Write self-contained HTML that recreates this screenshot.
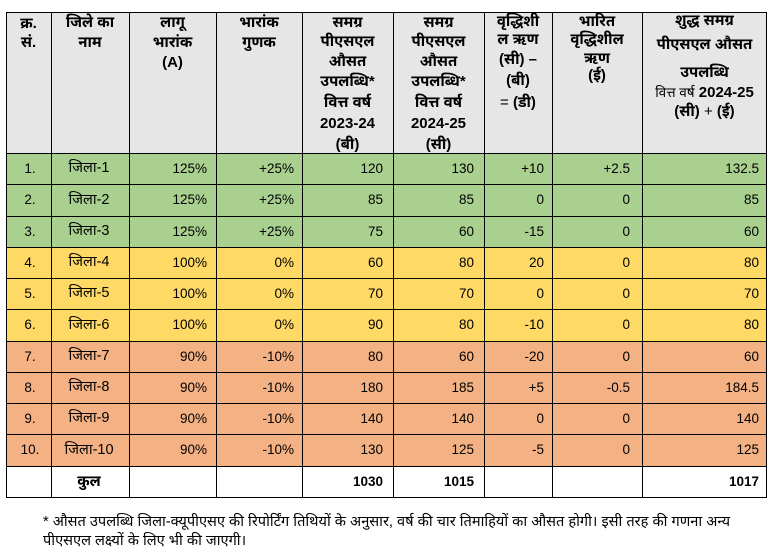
<!DOCTYPE html>
<html>
<head>
<meta charset="utf-8">
<style>
html,body{margin:0;padding:0;background:#fff;}
body{width:780px;height:557px;position:relative;overflow:hidden;font-family:"Liberation Sans","Noto Sans Devanagari","Lohit Devanagari","Nirmala UI","Mangal","FreeSans",sans-serif;color:#000;}
.bg{position:absolute;left:6px;width:761px;}
.hl{position:absolute;left:6px;width:761px;height:1px;background:#000;}
.vl{position:absolute;top:12px;height:486px;width:1px;background:#000;}
.row{position:absolute;left:0;width:780px;font-size:13.5px;}
.row span{position:absolute;top:0;white-space:nowrap;}
.a{left:6px;width:48px;text-align:center;}
.b{left:50px;width:78px;text-align:center;font-size:14.5px;}
.c{left:129px;width:78px;text-align:right;}
.d{left:216px;width:78px;text-align:right;}
.e{left:302px;width:81px;text-align:right;}
.f{left:393px;width:81px;text-align:right;}
.g{left:484px;width:60px;text-align:right;}
.h{left:552px;width:78px;text-align:right;}
.i{left:642px;width:117px;text-align:right;}
.hd{position:absolute;font-size:15px;font-weight:bold;text-align:center;white-space:nowrap;height:20px;line-height:20px;}
.tot{font-weight:bold;}
.fn{position:absolute;left:43px;font-size:14.6px;white-space:nowrap;height:19px;line-height:19px;}
</style>
</head>
<body>
<!-- backgrounds -->
<div class="bg" style="top:12px;height:141px;background:#e7e6e6;"></div>
<div class="bg" style="top:153px;height:94px;background:#a9d08e;"></div>
<div class="bg" style="top:247px;height:94px;background:#ffd966;"></div>
<div class="bg" style="top:341px;height:125px;background:#f4b183;"></div>
<div class="bg" style="top:466px;height:32px;background:#fff;"></div>

<!-- header text -->
<div class="hd" style="left:6px;width:45px;top:14px;">क्र.</div>
<div class="hd" style="left:6px;width:45px;top:33px;">सं.</div>

<div class="hd" style="left:51px;width:78px;top:13px;">जिले का</div>
<div class="hd" style="left:51px;width:78px;top:33px;">नाम</div>

<div class="hd" style="left:129px;width:87px;top:13px;">लागू</div>
<div class="hd" style="left:129px;width:87px;top:33px;">भारांक</div>
<div class="hd" style="left:129px;width:87px;top:53px;">(A)</div>

<div class="hd" style="left:216px;width:86px;top:13px;">भारांक</div>
<div class="hd" style="left:216px;width:86px;top:33px;">गुणक</div>

<div class="hd" style="left:302px;width:91px;top:13px;">समग्र</div>
<div class="hd" style="left:302px;width:91px;top:32px;">पीएसएल</div>
<div class="hd" style="left:302px;width:91px;top:52px;">औसत</div>
<div class="hd" style="left:302px;width:91px;top:72px;">उपलब्धि*</div>
<div class="hd" style="left:302px;width:91px;top:93px;">वित्त वर्ष</div>
<div class="hd" style="left:302px;width:91px;top:114px;">2023-24</div>
<div class="hd" style="left:302px;width:91px;top:135px;">(बी)</div>

<div class="hd" style="left:393px;width:91px;top:13px;">समग्र</div>
<div class="hd" style="left:393px;width:91px;top:32px;">पीएसएल</div>
<div class="hd" style="left:393px;width:91px;top:52px;">औसत</div>
<div class="hd" style="left:393px;width:91px;top:72px;">उपलब्धि*</div>
<div class="hd" style="left:393px;width:91px;top:93px;">वित्त वर्ष</div>
<div class="hd" style="left:393px;width:91px;top:114px;">2024-25</div>
<div class="hd" style="left:393px;width:91px;top:135px;">(सी)</div>

<div class="hd" style="left:484px;width:68px;top:12px;">वृद्धिशी</div>
<div class="hd" style="left:484px;width:68px;top:30px;">ल ऋण</div>
<div class="hd" style="left:484px;width:68px;top:50px;">(सी) –</div>
<div class="hd" style="left:484px;width:68px;top:71px;">(बी)</div>
<div class="hd" style="left:484px;width:68px;top:93px;"><span style="font-weight:normal">=</span> (डी)</div>

<div class="hd" style="left:552px;width:90px;top:12px;">भारित</div>
<div class="hd" style="left:552px;width:90px;top:30px;">वृद्धिशील</div>
<div class="hd" style="left:552px;width:90px;top:49px;">ऋण</div>
<div class="hd" style="left:552px;width:90px;top:66px;">(ई)</div>

<div class="hd" style="left:642px;width:125px;top:11px;">शुद्ध समग्र</div>
<div class="hd" style="left:642px;width:125px;top:35px;">पीएसएल औसत</div>
<div class="hd" style="left:642px;width:125px;top:63px;">उपलब्धि</div>
<div class="hd" style="left:642px;width:125px;top:83px;"><span style="font-weight:normal;font-size:13.5px;">वित्त वर्ष</span> 2024-25</div>
<div class="hd" style="left:642px;width:125px;top:102px;">(सी) <span style="font-weight:normal">+</span> (ई)</div>

<!-- data rows -->
<div class="row" style="top:153px;height:31px;line-height:31px;"><span class="a">1.</span><span class="b">जिला-1</span><span class="c">125%</span><span class="d">+25%</span><span class="e">120</span><span class="f">130</span><span class="g">+10</span><span class="h">+2.5</span><span class="i">132.5</span></div>
<div class="row" style="top:184px;height:32px;line-height:32px;"><span class="a">2.</span><span class="b">जिला-2</span><span class="c">125%</span><span class="d">+25%</span><span class="e">85</span><span class="f">85</span><span class="g">0</span><span class="h">0</span><span class="i">85</span></div>
<div class="row" style="top:216px;height:31px;line-height:31px;"><span class="a">3.</span><span class="b">जिला-3</span><span class="c">125%</span><span class="d">+25%</span><span class="e">75</span><span class="f">60</span><span class="g">-15</span><span class="h">0</span><span class="i">60</span></div>
<div class="row" style="top:247px;height:31px;line-height:31px;"><span class="a">4.</span><span class="b">जिला-4</span><span class="c">100%</span><span class="d">0%</span><span class="e">60</span><span class="f">80</span><span class="g">20</span><span class="h">0</span><span class="i">80</span></div>
<div class="row" style="top:278px;height:31px;line-height:31px;"><span class="a">5.</span><span class="b">जिला-5</span><span class="c">100%</span><span class="d">0%</span><span class="e">70</span><span class="f">70</span><span class="g">0</span><span class="h">0</span><span class="i">70</span></div>
<div class="row" style="top:309px;height:32px;line-height:32px;"><span class="a">6.</span><span class="b">जिला-6</span><span class="c">100%</span><span class="d">0%</span><span class="e">90</span><span class="f">80</span><span class="g">-10</span><span class="h">0</span><span class="i">80</span></div>
<div class="row" style="top:341px;height:31px;line-height:31px;"><span class="a">7.</span><span class="b">जिला-7</span><span class="c">90%</span><span class="d">-10%</span><span class="e">80</span><span class="f">60</span><span class="g">-20</span><span class="h">0</span><span class="i">60</span></div>
<div class="row" style="top:372px;height:31px;line-height:31px;"><span class="a">8.</span><span class="b">जिला-8</span><span class="c">90%</span><span class="d">-10%</span><span class="e">180</span><span class="f">185</span><span class="g">+5</span><span class="h">-0.5</span><span class="i">184.5</span></div>
<div class="row" style="top:403px;height:31px;line-height:31px;"><span class="a">9.</span><span class="b">जिला-9</span><span class="c">90%</span><span class="d">-10%</span><span class="e">140</span><span class="f">140</span><span class="g">0</span><span class="h">0</span><span class="i">140</span></div>
<div class="row" style="top:434px;height:32px;line-height:32px;"><span class="a">10.</span><span class="b">जिला-10</span><span class="c">90%</span><span class="d">-10%</span><span class="e">130</span><span class="f">125</span><span class="g">-5</span><span class="h">0</span><span class="i">125</span></div>
<div class="row tot" style="top:466px;height:32px;line-height:32px;"><span class="b" style="font-size:15px;">कुल</span><span class="e">1030</span><span class="f">1015</span><span class="i">1017</span></div>

<!-- horizontal lines -->
<div class="hl" style="top:12px;"></div>
<div class="hl" style="top:153px;"></div>
<div class="hl" style="top:184px;"></div>
<div class="hl" style="top:216px;"></div>
<div class="hl" style="top:247px;"></div>
<div class="hl" style="top:278px;"></div>
<div class="hl" style="top:309px;"></div>
<div class="hl" style="top:341px;"></div>
<div class="hl" style="top:372px;"></div>
<div class="hl" style="top:403px;"></div>
<div class="hl" style="top:434px;"></div>
<div class="hl" style="top:466px;"></div>
<div class="hl" style="top:497px;"></div>

<!-- vertical lines -->
<div class="vl" style="left:6px;"></div>
<div class="vl" style="left:51px;"></div>
<div class="vl" style="left:129px;"></div>
<div class="vl" style="left:216px;"></div>
<div class="vl" style="left:302px;"></div>
<div class="vl" style="left:393px;"></div>
<div class="vl" style="left:484px;"></div>
<div class="vl" style="left:552px;"></div>
<div class="vl" style="left:642px;"></div>
<div class="vl" style="left:766px;"></div>

<!-- footnote -->
<div class="fn" style="top:513px;">* औसत उपलब्धि जिला-क्यूपीएसए की रिपोर्टिंग तिथियों के अनुसार, वर्ष की चार तिमाहियों का औसत होगी। इसी तरह की गणना अन्य</div>
<div class="fn" style="top:532px;">पीएसएल लक्ष्यों के लिए भी की जाएगी।</div>
</body>
</html>
